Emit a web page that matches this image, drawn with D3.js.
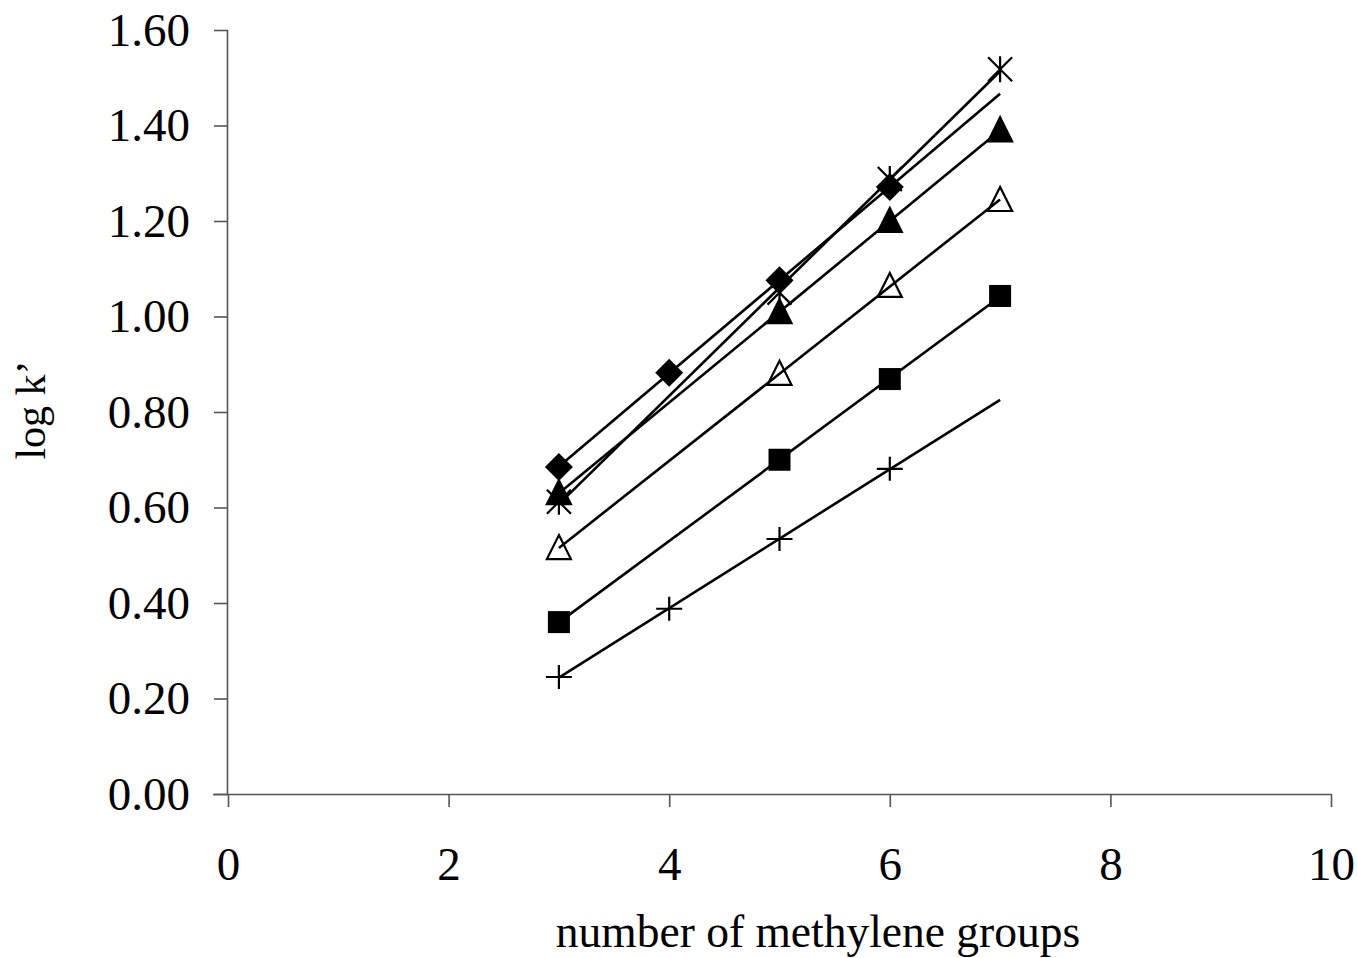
<!DOCTYPE html>
<html>
<head>
<meta charset="utf-8">
<script src="https://cdn.jsdelivr.net/npm/d3@7"></script>
<style>
  body { margin: 0; background: #fff; }
  svg { display: block; font-family: "Liberation Serif", "Times New Roman", serif; }
</style>
</head>
<body>
<svg id="chart" width="1358" height="958"></svg>
<script>
// data
const xTicks = [0, 2, 4, 6, 8, 10];
const yTicks = [0, 0.2, 0.4, 0.6, 0.8, 1.0, 1.2, 1.4, 1.6];

const diamondX = [3, 4, 5, 6];
const diamondY = [0.685, 0.882, 1.076, 1.271];
const starX = [3, 5, 6, 7];
const starY = [0.612, 1.05, 1.288, 1.518];
const triFillX = [3, 5, 6, 7];
const triFillY = [0.630, 1.009, 1.200, 1.390];
const triOpenX = [3, 5, 6, 7];
const triOpenY = [0.515, 0.880, 1.064, 1.244];
const squareX = [3, 5, 6, 7];
const squareY = [0.360, 0.700, 0.869, 1.043];
const plusX = [3, 4, 5, 6];
const plusY = [0.245, 0.388, 0.534, 0.681];

const series = [
  { name: 'diamond', xs: diamondX, ys: diamondY },
  { name: 'star', xs: starX, ys: starY },
  { name: 'triFill', xs: triFillX, ys: triFillY },
  { name: 'triOpen', xs: triOpenX, ys: triOpenY },
  { name: 'square', xs: squareX, ys: squareY },
  { name: 'plus', xs: plusX, ys: plusY }
];
const trendFrom = 3, trendTo = 7;

const svg = d3.select('#chart');
const x = d3.scaleLinear().domain([0, 10]).range([228, 1331]);
const y = d3.scaleLinear().domain([0, 1.6]).range([794, 30]);

// axes
const axisColor = '#555';
const xAxis = svg.append('g').attr('transform', 'translate(0,' + y(0) + ')')
  .call(d3.axisBottom(x).tickValues(xTicks).tickSize(13).tickPadding(40).tickFormat(d3.format('d')));
const yAxis = svg.append('g').attr('transform', 'translate(' + x(0) + ',0)')
  .call(d3.axisLeft(y).tickValues(yTicks).tickSize(14).tickPadding(24).tickFormat(d3.format('.2f')));
[xAxis, yAxis].forEach(a => {
  a.select('.domain').attr('stroke', axisColor).attr('stroke-width', 1.6);
  a.selectAll('.tick line').attr('stroke', axisColor).attr('stroke-width', 1.6);
  a.selectAll('text').attr('fill', '#000').style('font-size', '47px')
    .style('font-family', '"Liberation Serif", "Times New Roman", serif');
});
// x axis domain without outer ticks
xAxis.select('.domain').attr('d', 'M' + (x(0) - 15) + ',0.5H' + x(10));
yAxis.select('.domain').attr('d', 'M-0.5,' + y(0) + 'V' + y(1.6));

// axis titles
svg.append('text').attr('x', 818).attr('y', 947).attr('text-anchor', 'middle')
  .style('font-size', '45.5px').text('number of methylene groups');
svg.append('text').attr('transform', 'translate(45,410) rotate(-90)').attr('text-anchor', 'middle')
  .style('font-size', '42px').text('log k\u2019');

// markers
const g = svg.append('g');
function marker(sel, name) {
  const s = 12;
  if (name === 'diamond') {
    sel.append('path').attr('d', 'M0,-14L14,0L0,14L-14,0Z').attr('fill', '#000');
  } else if (name === 'square') {
    sel.append('rect').attr('x', -11).attr('y', -11).attr('width', 22).attr('height', 22).attr('fill', '#000');
  } else if (name === 'triFill' || name === 'triOpen') {
    const h = 22, w = 24;
    sel.append('path').attr('d', `M0,${-h / 2 - 2}L${w / 2},${h / 2}L${-w / 2},${h / 2}Z`)
      .attr('fill', name === 'triFill' ? '#000' : '#fff')
      .attr('stroke', '#000').attr('stroke-width', 2.2).attr('stroke-linejoin', 'miter');
  } else if (name === 'plus') {
    sel.append('path').attr('d', `M${-s - 1},0H${s + 1}M0,${-s}V${s}`)
      .attr('stroke', '#000').attr('stroke-width', 2.2);
  } else if (name === 'star') {
    sel.append('path').attr('d', `M${-s},${-s}L${s},${s}M${s},${-s}L${-s},${s}M0,${-s - 1}V${s + 1}`)
      .attr('stroke', '#000').attr('stroke-width', 2.2);
  }
}
series.forEach(sr => {
  sr.xs.forEach((xv, i) => {
    const m = g.append('g').attr('transform', `translate(${x(xv)},${y(sr.ys[i])})`);
    marker(m, sr.name);
  });
});

// linear trend lines (least squares) over 3..7
const lines = svg.append('g');
series.forEach(sr => {
  const n = sr.xs.length;
  const mx = d3.mean(sr.xs), my = d3.mean(sr.ys);
  let sxy = 0, sxx = 0;
  for (let i = 0; i < n; i++) {
    sxy += (sr.xs[i] - mx) * (sr.ys[i] - my);
    sxx += (sr.xs[i] - mx) * (sr.xs[i] - mx);
  }
  const b = sxy / sxx, a = my - b * mx;
  lines.append('line')
    .attr('x1', x(trendFrom)).attr('y1', y(a + b * trendFrom))
    .attr('x2', x(trendTo)).attr('y2', y(a + b * trendTo))
    .attr('stroke', '#000').attr('stroke-width', 2.6);
});
</script>
</body>
</html>
